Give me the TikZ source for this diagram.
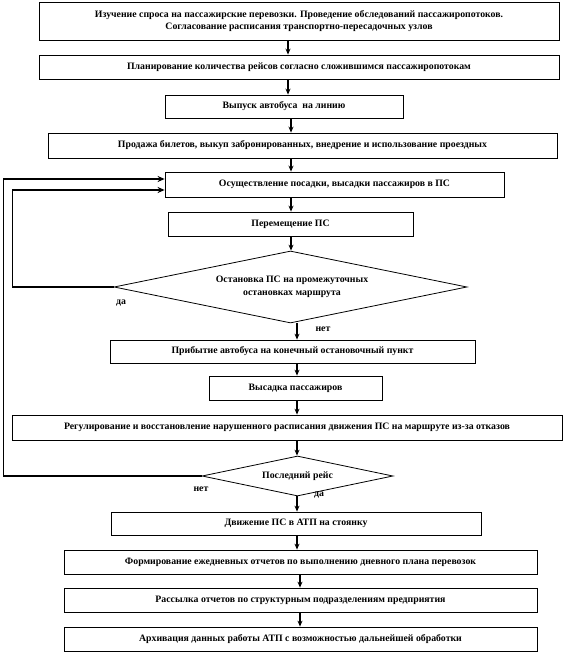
\documentclass[tikz,border=0pt]{standalone}
\usepackage{fontspec}
\setmainfont{Liberation Serif}
\usetikzlibrary{shapes.geometric,arrows.meta}
\begin{document}
\begin{tikzpicture}[x=1pt,y=-1pt,
  txt/.style={font=\fontsize{9.8}{12.5}\selectfont\bfseries},
  box/.style={draw,line width=0.8pt,rectangle,inner sep=0pt,align=center,txt},
  dia/.style={draw,line width=0.8pt,diamond,inner sep=0pt,align=center,txt},
  arr/.style={line width=1.3pt,-{Stealth[length=6pt,width=5pt]}},
  loop/.style={line width=1.8pt,-{Stealth[length=7pt,width=6pt]}},
  lbl/.style={txt,inner sep=0pt,align=center}]
\useasboundingbox (0,0) rectangle (568,652);
\node[box,minimum width=520pt,minimum height=38pt] (b1) at (299,21) {Изучение спроса на пассажирские перевозки. Проведение обследований пассажиропотоков.\\Согласование расписания транспортно-пересадочных узлов};
\node[box,minimum width=520pt,minimum height=24pt] (b2) at (299,67) {Планирование количества рейсов согласно сложившимся пассажиропотокам};
\node[box,minimum width=238pt,minimum height=23pt] (b3) at (284,106.5) {Выпуск автобуса\ \ на линию};
\node[box,minimum width=509pt,minimum height=25pt] (b4) at (302.5,145.5) {Продажа билетов, выкуп забронированных, внедрение и использование проездных};
\node[box,minimum width=339pt,minimum height=25pt] (b5) at (334.5,184.5) {Осуществление посадки, высадки пассажиров в ПС};
\node[box,minimum width=245pt,minimum height=24pt] (b6) at (290.5,224) {Перемещение ПС};
\node[dia,minimum width=353pt,minimum height=72pt] (d1) at (290.5,287) {};
\node[lbl] (d1t) at (292,287) {Остановка ПС на промежуточных\\остановках маршрута};
\node[box,minimum width=365pt,minimum height=23pt] (b7) at (292.5,351.5) {Прибытие автобуса на конечный остановочный пункт};
\node[box,minimum width=173pt,minimum height=24pt] (b8) at (295.5,388) {Высадка пассажиров};
\node[box,minimum width=550pt,minimum height=25pt] (b9) at (287,427.5) {Регулирование и восстановление нарушенного расписания движения ПС на маршруте из-за отказов};
\node[dia,minimum width=191pt,minimum height=40pt] (d2) at (297.5,476) {};
\node[lbl] (d2t) at (297.5,476) {Последний рейс};
\node[box,minimum width=370pt,minimum height=23pt] (b10) at (296,523.5) {Движение ПС в АТП на стоянку};
\node[box,minimum width=473pt,minimum height=24pt] (b11) at (300.5,562) {Формирование ежедневных отчетов по выполнению дневного плана перевозок};
\node[box,minimum width=473pt,minimum height=24pt] (b12) at (300.5,600) {Рассылка отчетов по структурным подразделениям предприятия};
\node[box,minimum width=473pt,minimum height=24pt] (b13) at (300.5,639) {Архивация данных работы АТП с возможностью дальнейшей обработки};
\node[lbl] (yes1) at (121,303) {да};
\node[lbl] (no1) at (323,329) {нет};
\node[lbl] (no2) at (201,489) {нет};
\node[lbl] (yes2) at (319,495) {да};
\coordinate (c1) at (288,0);
\coordinate (c2) at (291,0);
\coordinate (c3) at (297,0);
\coordinate (c4) at (300,0);
\coordinate (L1) at (12.5,190);
\coordinate (L2) at (3.5,179);
\draw[arr] (b1.south -| c1) -- (b2.north -| c1);
\draw[arr] (b2.south -| c1) -- (b3.north -| c1);
\draw[arr] (b3.south -| c2) -- (b4.north -| c2);
\draw[arr] (b4.south -| c2) -- (b5.north -| c2);
\draw[arr] (b5.south -| c2) -- (b6.north -| c2);
\draw[arr] (b6.south -| c2) -- (d1.north -| c2);
\draw[arr] (d1.south -| c3) -- (b7.north -| c3);
\draw[arr] (b7.south -| c3) -- (b8.north -| c3);
\draw[arr] (b8.south -| c3) -- (b9.north -| c3);
\draw[arr] (b9.south -| c3) -- (d2.north -| c3);
\draw[arr] (d2.south -| c3) -- (b10.north -| c3);
\draw[arr] (b10.south -| c3) -- (b11.north -| c3);
\draw[arr] (b11.south -| c4) -- (b12.north -| c4);
\draw[arr] (b12.south -| c4) -- (b13.north -| c4);
\draw[loop] (d1.west) -- (d1.west -| L1) -- (L1) -- (L1 -| b5.west);
\draw[loop] (d2.west) -- (d2.west -| L2) -- (L2) -- (L2 -| b5.west);
\end{tikzpicture}
\end{document}
